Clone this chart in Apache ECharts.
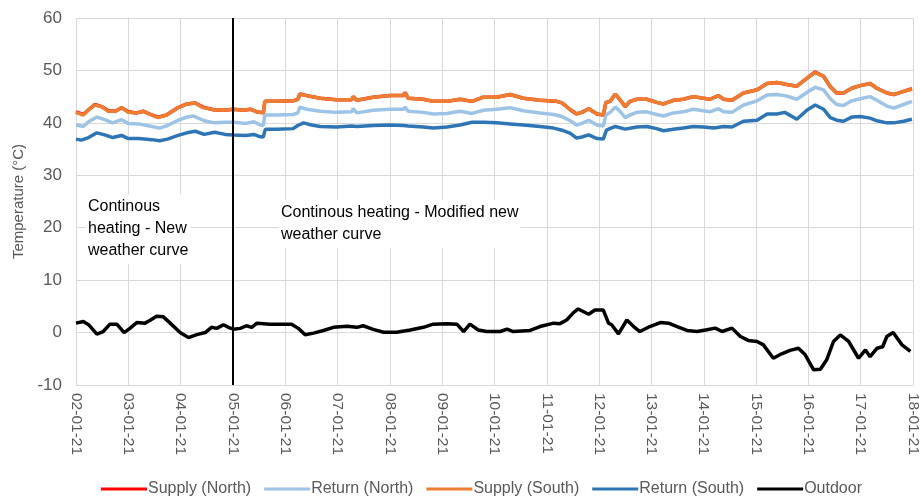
<!DOCTYPE html>
<html>
<head>
<meta charset="utf-8">
<script src="https://cdn.jsdelivr.net/npm/echarts@6/dist/echarts.min.js"></script>
<style>
  html, body { margin: 0; padding: 0; background: #fff; }
  #chart { width: 921px; height: 504px; }
</style>
</head>
<body>
<div id="chart"></div>
<script>
// Day labels for the x axis (day 0 = 02-01-21)
const dayLabels = ['02-01-21', '03-01-21', '04-01-21', '05-01-21', '06-01-21', '07-01-21',
  '08-01-21', '09-01-21', '10-01-21', '11-01-21', '12-01-21', '13-01-21', '14-01-21',
  '15-01-21', '16-01-21', '17-01-21', '18-01-21'];

// Day on which the heating strategy was switched
const switchDay = 3;

const seriesNames = ['Supply (North)', 'Return (North)', 'Supply (South)', 'Return (South)', 'Outdoor'];

// [day offset, temperature °C]
const supplySouth = [
  [0.00, 42.0], [0.14, 41.5], [0.24, 42.5], [0.36, 43.4], [0.49, 43.1], [0.62, 42.2], [0.75, 42.2],
  [0.87, 42.9], [1.00, 42.0], [1.16, 41.9], [1.29, 42.2], [1.45, 41.5], [1.57, 41.0], [1.73, 41.5],
  [1.93, 42.8], [2.12, 43.6], [2.28, 43.8], [2.43, 42.9], [2.63, 42.5], [2.82, 42.4], [3.01, 42.6],
  [3.20, 42.4], [3.33, 42.6], [3.46, 42.1], [3.58, 41.9], [3.61, 44.1], [3.84, 44.1], [4.15, 44.2],
  [4.24, 44.5], [4.28, 45.5], [4.41, 45.2], [4.67, 44.7], [4.98, 44.4], [5.27, 44.4], [5.30, 45.0],
  [5.37, 44.3], [5.68, 44.9], [6.00, 45.2], [6.26, 45.2], [6.29, 45.7], [6.35, 44.7], [6.64, 44.5],
  [6.83, 44.1], [7.09, 44.1], [7.34, 44.5], [7.57, 44.1], [7.79, 44.9], [8.04, 44.9], [8.30, 45.4],
  [8.55, 44.7], [8.87, 44.3], [9.19, 44.1], [9.29, 43.8], [9.45, 42.5], [9.57, 41.7], [9.67, 42.0],
  [9.80, 42.7], [9.96, 41.7], [10.08, 41.5], [10.13, 43.9], [10.21, 44.1], [10.31, 45.5], [10.40, 44.4],
  [10.50, 43.1], [10.59, 44.1], [10.72, 44.5], [10.91, 44.5], [11.10, 43.9], [11.23, 43.6], [11.42, 44.3],
  [11.61, 44.5], [11.80, 45.0], [11.99, 44.7], [12.12, 44.5], [12.28, 45.2], [12.38, 44.5], [12.54, 44.3],
  [12.76, 45.7], [13.02, 46.3], [13.21, 47.5], [13.40, 47.7], [13.59, 47.3], [13.78, 47.0], [13.97, 48.5],
  [14.13, 49.6], [14.29, 48.9], [14.42, 46.9], [14.54, 45.7], [14.67, 45.7], [14.83, 46.6], [14.99, 47.1],
  [15.18, 47.5], [15.31, 46.6], [15.50, 45.7], [15.63, 45.4], [15.82, 46.0], [15.98, 46.4]
];

const supplyNorth = [
  [0.00, 42.1], [0.14, 41.6], [0.24, 42.5], [0.36, 43.5], [0.49, 43.1], [0.62, 42.3], [0.75, 42.2],
  [0.87, 42.9], [1.00, 42.1], [1.16, 41.9], [1.29, 42.2], [1.45, 41.5], [1.57, 41.1], [1.73, 41.5],
  [1.93, 42.8], [2.12, 43.6], [2.28, 43.8], [2.43, 43.0], [2.63, 42.5], [2.82, 42.4], [3.01, 42.6],
  [3.20, 42.4], [3.33, 42.6], [3.46, 42.1], [3.58, 41.9], [3.61, 44.1], [3.84, 44.1], [4.15, 44.2],
  [4.24, 44.5], [4.28, 45.5], [4.41, 45.2], [4.67, 44.7], [4.98, 44.4], [5.27, 44.4], [5.30, 45.0],
  [5.37, 44.3], [5.68, 44.9], [6.00, 45.2], [6.26, 45.2], [6.29, 45.8], [6.35, 44.7], [6.64, 44.5],
  [6.83, 44.1], [7.09, 44.1], [7.34, 44.5], [7.57, 44.1], [7.79, 44.9], [8.04, 44.9], [8.30, 45.4],
  [8.55, 44.7], [8.87, 44.3], [9.19, 44.1], [9.29, 43.8], [9.45, 42.5], [9.57, 41.7], [9.67, 42.0],
  [9.80, 42.7], [9.96, 41.7], [10.08, 41.5], [10.13, 43.9], [10.21, 44.1], [10.31, 45.5], [10.40, 44.4],
  [10.50, 43.1], [10.59, 44.1], [10.72, 44.5], [10.91, 44.5], [11.10, 43.9], [11.23, 43.6], [11.42, 44.3],
  [11.61, 44.5], [11.80, 45.0], [11.99, 44.7], [12.12, 44.5], [12.28, 45.2], [12.38, 44.5], [12.54, 44.3],
  [12.76, 45.7], [13.02, 46.3], [13.21, 47.5], [13.40, 47.7], [13.59, 47.3], [13.78, 47.0], [13.97, 48.5],
  [14.13, 49.7], [14.29, 48.9], [14.42, 46.9], [14.54, 45.7], [14.67, 45.7], [14.83, 46.6], [14.99, 47.1],
  [15.18, 47.5], [15.31, 46.6], [15.50, 45.7], [15.63, 45.4], [15.82, 46.0], [15.98, 46.5]
];

const returnNorth = [
  [0.00, 39.6], [0.14, 39.3], [0.24, 40.2], [0.40, 41.1], [0.55, 40.6], [0.70, 40.0], [0.87, 40.6],
  [1.00, 39.9], [1.20, 39.8], [1.45, 39.3], [1.60, 39.0], [1.75, 39.5], [1.95, 40.5], [2.12, 41.1],
  [2.25, 41.3], [2.45, 40.4], [2.65, 40.0], [2.85, 40.1], [3.01, 40.1], [3.25, 39.9], [3.40, 40.2],
  [3.50, 39.7], [3.58, 39.5], [3.61, 41.5], [3.84, 41.5], [4.15, 41.6], [4.24, 41.9], [4.28, 43.0],
  [4.41, 42.6], [4.67, 42.2], [4.98, 42.0], [5.27, 42.1], [5.30, 42.7], [5.37, 41.9], [5.68, 42.4],
  [6.00, 42.6], [6.26, 42.6], [6.29, 43.0], [6.35, 42.2], [6.64, 42.0], [6.83, 41.7], [7.09, 41.8],
  [7.34, 42.2], [7.57, 41.8], [7.79, 42.4], [8.04, 42.6], [8.30, 42.9], [8.55, 42.3], [8.87, 41.9],
  [9.13, 41.6], [9.29, 41.2], [9.45, 40.4], [9.57, 39.6], [9.67, 39.9], [9.80, 40.5], [9.96, 39.6],
  [10.08, 39.4], [10.13, 41.5], [10.21, 42.0], [10.31, 43.0], [10.40, 42.2], [10.50, 41.0], [10.59, 41.5],
  [10.72, 42.0], [10.91, 42.1], [11.10, 41.6], [11.23, 41.3], [11.42, 41.9], [11.61, 42.1], [11.80, 42.6],
  [11.99, 42.3], [12.12, 42.1], [12.28, 42.7], [12.38, 42.1], [12.54, 42.0], [12.76, 43.4], [13.02, 44.2],
  [13.21, 45.3], [13.40, 45.4], [13.59, 45.1], [13.78, 44.5], [13.97, 45.8], [14.13, 46.8], [14.29, 46.3],
  [14.42, 44.6], [14.54, 43.5], [14.67, 43.3], [14.83, 44.2], [14.99, 44.6], [15.18, 45.0], [15.31, 44.3],
  [15.50, 43.2], [15.63, 42.8], [15.82, 43.5], [15.98, 44.1]
];

const returnSouth = [
  [0.00, 36.9], [0.10, 36.7], [0.24, 37.2], [0.40, 38.1], [0.55, 37.7], [0.70, 37.2], [0.87, 37.6],
  [1.00, 37.0], [1.20, 37.0], [1.45, 36.8], [1.60, 36.6], [1.75, 36.9], [1.95, 37.6], [2.12, 38.1],
  [2.28, 38.4], [2.45, 37.8], [2.65, 38.2], [2.85, 37.8], [3.01, 37.7], [3.25, 37.6], [3.40, 37.8],
  [3.50, 37.4], [3.58, 37.3], [3.62, 38.8], [3.84, 38.8], [4.15, 38.9], [4.24, 39.5], [4.35, 40.0],
  [4.50, 39.6], [4.67, 39.3], [4.98, 39.2], [5.27, 39.4], [5.37, 39.3], [5.68, 39.5], [6.00, 39.6],
  [6.26, 39.5], [6.35, 39.4], [6.64, 39.2], [6.83, 39.0], [7.09, 39.2], [7.34, 39.6], [7.57, 40.1],
  [7.79, 40.1], [8.04, 40.0], [8.30, 39.8], [8.55, 39.6], [8.87, 39.3], [9.13, 39.0], [9.29, 38.6],
  [9.45, 38.0], [9.57, 37.1], [9.67, 37.3], [9.80, 37.7], [9.96, 37.0], [10.08, 36.9], [10.14, 38.6],
  [10.25, 39.1], [10.31, 39.3], [10.50, 38.8], [10.72, 39.2], [10.91, 39.3], [11.10, 38.9], [11.23, 38.5],
  [11.42, 38.8], [11.61, 39.0], [11.80, 39.3], [11.99, 39.2], [12.20, 39.0], [12.38, 39.3], [12.54, 39.2],
  [12.76, 40.3], [13.02, 40.5], [13.21, 41.7], [13.40, 41.7], [13.55, 42.0], [13.78, 40.7], [13.97, 42.4],
  [14.13, 43.4], [14.29, 42.6], [14.42, 41.0], [14.54, 40.5], [14.67, 40.3], [14.83, 41.1], [14.99, 41.2],
  [15.18, 40.9], [15.31, 40.4], [15.50, 40.0], [15.63, 40.0], [15.82, 40.3], [15.98, 40.7]
];

const outdoor = [
  [0.00, 1.8], [0.14, 2.1], [0.24, 1.5], [0.40, -0.3], [0.52, 0.2], [0.65, 1.6], [0.78, 1.6],
  [0.92, 0.0], [1.03, 0.8], [1.16, 1.9], [1.32, 1.8], [1.41, 2.3], [1.54, 3.1], [1.67, 3.0],
  [1.80, 1.8], [1.99, 0.0], [2.15, -0.95], [2.31, -0.4], [2.47, 0.0], [2.59, 1.0], [2.69, 0.8],
  [2.82, 1.5], [2.91, 1.0], [3.01, 0.65], [3.14, 0.8], [3.26, 1.3], [3.36, 1.0], [3.46, 1.8],
  [3.71, 1.6], [3.96, 1.6], [4.12, 1.6], [4.25, 0.8], [4.38, -0.4], [4.54, -0.1], [4.73, 0.4],
  [4.92, 1.0], [5.18, 1.2], [5.37, 1.0], [5.49, 1.3], [5.68, 0.6], [5.88, 0.05], [6.13, 0.05],
  [6.39, 0.5], [6.64, 1.0], [6.83, 1.6], [7.09, 1.7], [7.28, 1.6], [7.41, 0.2], [7.53, 1.6],
  [7.69, 0.5], [7.85, 0.2], [8.11, 0.2], [8.24, 0.65], [8.36, 0.2], [8.68, 0.4], [8.87, 1.15],
  [9.13, 1.8], [9.25, 1.7], [9.38, 2.4], [9.51, 3.8], [9.60, 4.5], [9.80, 3.5], [9.92, 4.3],
  [10.08, 4.3], [10.18, 1.8], [10.24, 1.5], [10.37, -0.25], [10.53, 2.4], [10.66, 1.15], [10.78, 0.2],
  [10.97, 1.15], [11.17, 1.9], [11.33, 1.8], [11.49, 1.15], [11.68, 0.4], [11.87, 0.2], [12.06, 0.55],
  [12.22, 0.85], [12.35, 0.2], [12.54, 0.85], [12.70, -0.75], [12.85, -1.5], [13.02, -1.7], [13.14, -2.35],
  [13.33, -4.9], [13.49, -4.05], [13.65, -3.4], [13.81, -3.0], [13.94, -4.25], [14.10, -7.1], [14.23, -7.0],
  [14.35, -5.2], [14.48, -1.7], [14.61, -0.45], [14.77, -1.7], [14.96, -4.9], [15.09, -3.3], [15.18, -4.6],
  [15.31, -3.0], [15.42, -2.7], [15.50, -0.75], [15.62, 0.0], [15.79, -2.35], [15.95, -3.6]
];

const FONT = "'Liberation Sans', Arial, sans-serif";
const GREY = '#595959';

const chart = echarts.init(document.getElementById('chart'), null, { renderer: 'canvas' });

function lineSeries(name, data, color, extra) {
  return Object.assign({
    name: name,
    type: 'line',
    data: data,
    showSymbol: false,
    symbol: 'none',
    smooth: false,
    lineStyle: { color: color, width: 3.5 },
    itemStyle: { color: color },
    animation: false
  }, extra || {});
}

chart.setOption({
  animation: false,
  grid: { left: 76, right: 8, top: 18, bottom: 119 },
  xAxis: {
    type: 'value',
    min: 0,
    max: dayLabels.length - 1,
    interval: 1,
    axisLine: { show: true, lineStyle: { color: '#d9d9d9', width: 1 } },
    axisTick: { show: false },
    splitLine: { show: true, lineStyle: { color: '#d9d9d9', width: 1 } },
    axisLabel: {
      rotate: -90,
      margin: 8,
      color: GREY,
      fontSize: 15.5,
      fontFamily: FONT,
      formatter: function (v) { return dayLabels[Math.round(v)] || ''; }
    }
  },
  yAxis: {
    type: 'value',
    min: -10,
    max: 60,
    interval: 10,
    name: 'Temperature (°C)',
    nameLocation: 'middle',
    nameRotate: 90,
    nameGap: 49,
    nameTextStyle: { color: GREY, fontSize: 15, fontFamily: FONT },
    axisLine: { show: false },
    axisTick: { show: false },
    splitLine: { show: true, lineStyle: { color: '#d9d9d9', width: 1 } },
    axisLabel: { color: GREY, fontSize: 17, fontFamily: FONT, margin: 14 }
  },
  legend: {
    bottom: 2,
    left: 96,
    itemWidth: 46,
    itemHeight: 3,
    itemGap: 13,
    icon: 'rect',
    textStyle: { color: GREY, fontSize: 16, fontFamily: FONT, padding: [0, 0, 0, -4] },
    data: seriesNames
  },
  graphic: [
    {
      type: 'text',
      left: 86,
      top: 194,
      z: 10,
      style: {
        text: 'Continous\nheating - New\nweather curve',
        font: '16px ' + FONT,
        fill: '#000',
        lineHeight: 22,
        backgroundColor: '#fff',
        padding: [2, 2, 2, 2]
      }
    },
    {
      type: 'text',
      left: 279,
      top: 200,
      z: 10,
      style: {
        text: 'Continous heating - Modified new\nweather curve',
        font: '16px ' + FONT,
        fill: '#000',
        lineHeight: 22,
        backgroundColor: '#fff',
        padding: [2, 2, 2, 2]
      }
    }
  ],
  series: [
    lineSeries(seriesNames[0], supplyNorth, '#ff0000'),
    lineSeries(seriesNames[1], returnNorth, '#9dc3e6'),
    lineSeries(seriesNames[2], supplySouth, '#ed7d31'),
    lineSeries(seriesNames[3], returnSouth, '#2e75b6'),
    lineSeries(seriesNames[4], outdoor, '#000000', {
      markLine: {
        silent: true,
        symbol: ['none', 'none'],
        label: { show: false },
        lineStyle: { color: '#000', width: 2, type: 'solid' },
        data: [{ xAxis: switchDay }]
      }
    })
  ]
});
</script>
</body>
</html>
